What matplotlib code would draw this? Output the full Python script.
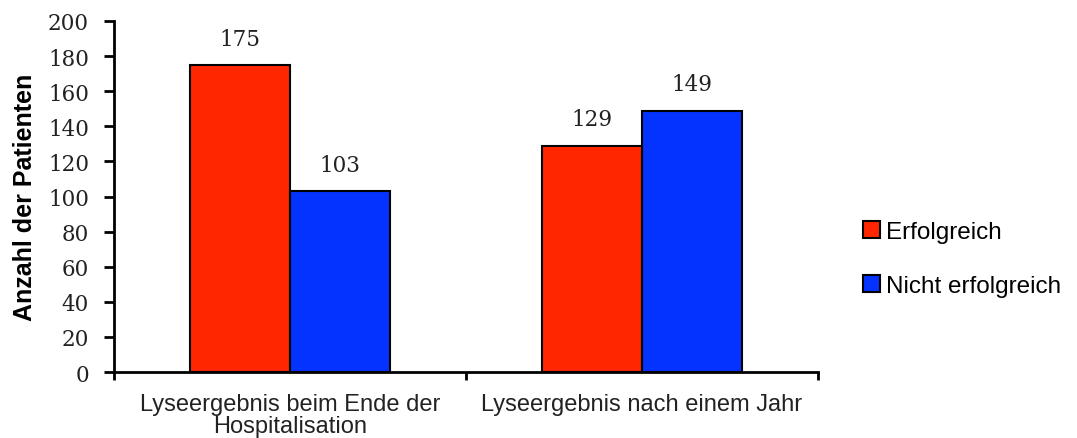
import numpy as np
import matplotlib.pyplot as plt
from matplotlib.patches import Patch

categories = ['Lyseergebnis beim Ende der\nHospitalisation', 'Lyseergebnis nach einem Jahr']
series_names = ['Erfolgreich', 'Nicht erfolgreich']
erfolgreich = [175, 129]
nicht_erfolgreich = [103, 149]
yticks = [0, 20, 40, 60, 80, 100, 120, 140, 160, 180, 200]

red = '#ff2600'
blue = '#0433ff'

fig = plt.figure(figsize=(10.77, 4.39), dpi=100)
ax = fig.add_axes([0.1058, 0.1503, 0.6537, 0.7996])

x = np.arange(len(categories))
w = 0.284
b1 = ax.bar(x - w / 2, erfolgreich, w, color=red, edgecolor='black', linewidth=1.5)
b2 = ax.bar(x + w / 2, nicht_erfolgreich, w, color=blue, edgecolor='black', linewidth=1.5)

for bars, vals in [(b1, erfolgreich), (b2, nicht_erfolgreich)]:
    for bar, v in zip(bars, vals):
        ax.annotate(str(v), (bar.get_x() + bar.get_width() / 2, v), xytext=(0, 11),
                    textcoords='offset points', ha='center', va='bottom',
                    fontsize=15.5, family='DejaVu Serif', color='#222222')

ax.set_xlim(-0.5, 1.5)
ax.set_ylim(0, 200)
ax.set_yticks(yticks)
ax.set_yticklabels([str(t) for t in yticks], family='DejaVu Serif', fontsize=15.5, color='#222222')

# category boundaries as tick marks, labels centered without marks
ax.set_xticks([-0.5, 0.5, 1.5])
ax.set_xticklabels([])
ax.set_xticks(x, minor=True)
ax.set_xticklabels(categories, minor=True, family='Liberation Sans', fontsize=17,
                   color='#222222', linespacing=1.0)
ax.tick_params(axis='x', which='minor', length=0, pad=15)
ax.tick_params(axis='x', which='major', direction='out', length=6, width=2)
ax.tick_params(axis='y', direction='out', length=7, width=2, pad=11)

for side in ['top', 'right']:
    ax.spines[side].set_visible(False)
for side in ['left', 'bottom']:
    ax.spines[side].set_linewidth(2)

ax.set_ylabel('Anzahl der Patienten', family='Liberation Sans', fontweight='bold', fontsize=18, labelpad=8)

handles = [Patch(facecolor=red, edgecolor='black', linewidth=1.5),
           Patch(facecolor=blue, edgecolor='black', linewidth=1.5)]
fig.legend(handles, series_names, loc='center left', bbox_to_anchor=(0.781, 0.408),
           frameon=False, handlelength=0.7, handleheight=0.7, handletextpad=0.25,
           labelspacing=1.3, prop={'family': 'Liberation Sans', 'size': 17.5})

plt.savefig('out.png', dpi=100)
